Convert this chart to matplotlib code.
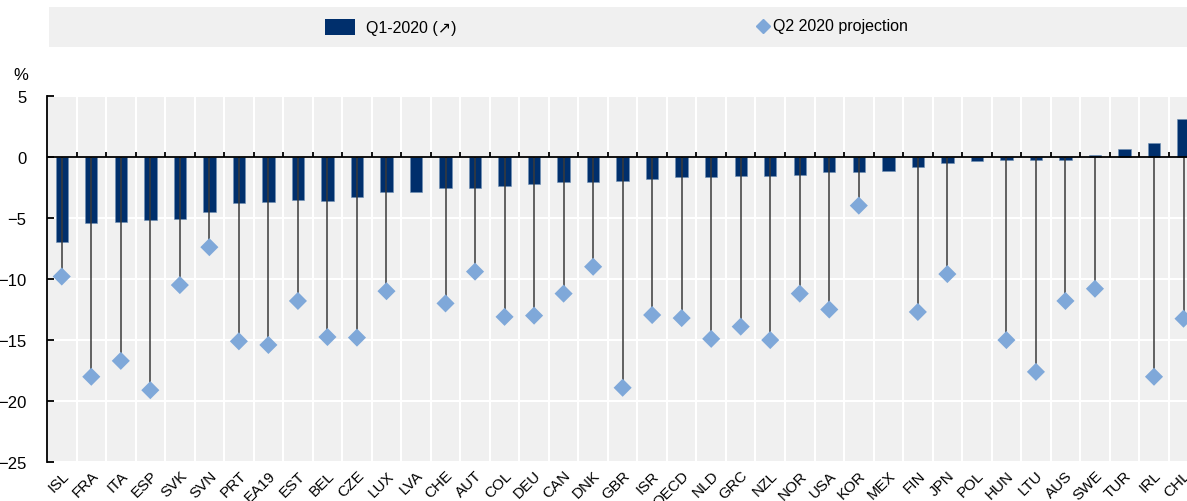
import numpy as np
import matplotlib
matplotlib.use('Agg')
import matplotlib.pyplot as plt
from matplotlib.patches import Rectangle

plt.rcParams['font.family'] = ['Liberation Sans', 'DejaVu Sans']

# Countries, sorted by Q1-2020 change
countries = ['ISL', 'FRA', 'ITA', 'ESP', 'SVK', 'SVN', 'PRT', 'EA19', 'EST', 'BEL',
             'CZE', 'LUX', 'LVA', 'CHE', 'AUT', 'COL', 'DEU', 'CAN', 'DNK', 'GBR',
             'ISR', 'OECD', 'NLD', 'GRC', 'NZL', 'NOR', 'USA', 'KOR', 'MEX', 'FIN',
             'JPN', 'POL', 'HUN', 'LTU', 'AUS', 'SWE', 'TUR', 'IRL', 'CHL']

# Q1-2020 growth (bars)
q1_2020 = [-7.0, -5.4, -5.3, -5.2, -5.1, -4.5, -3.8, -3.7, -3.55, -3.6,
           -3.3, -2.9, -2.9, -2.6, -2.55, -2.4, -2.2, -2.1, -2.05, -1.95,
           -1.8, -1.7, -1.7, -1.6, -1.6, -1.5, -1.25, -1.25, -1.2, -0.85,
           -0.5, -0.35, -0.3, -0.28, -0.25, 0.15, 0.6, 1.15, 3.1]

# Q2 2020 projection (diamonds), None where not available
q2_projection = [-9.8, -18.0, -16.7, -19.1, -10.5, -7.4, -15.1, -15.4, -11.8, -14.75,
                 -14.8, -11.0, None, -12.0, -9.4, -13.1, -13.0, -11.2, -9.0, -18.9,
                 -12.95, -13.2, -14.9, -13.9, -15.0, -11.2, -12.5, -4.0, None, -12.7,
                 -9.6, None, -15.0, -17.6, -11.8, -10.8, None, -18.0, -13.25]

bar_color = '#002F6C'
dia_color = '#7FA8D9'
bg = '#F0F0F0'

W, H = 1187, 502
fig = plt.figure(figsize=(W / 100, H / 100), dpi=100)

n = len(countries)
x = np.arange(n)
step = 29.52
ax_left, ax_top, ax_bot = 47, 96.6, 463.3
ax = fig.add_axes([ax_left / W, 1 - ax_bot / H, n * step / W, (ax_bot - ax_top) / H])
ax.set_facecolor(bg)
ax.set_xlim(-0.5, n - 0.5)
ax.set_ylim(-25, 5)

# white grid
for b in np.arange(n + 1) - 0.5:
    ax.axvline(b, color='white', lw=1.5, zorder=0)
for yv in range(-25, 6, 5):
    ax.axhline(yv, color='white', lw=1.5, zorder=0)

ax.bar(x, q1_2020, width=0.42, color=bar_color, edgecolor='#6f8fb5', linewidth=0.4, zorder=2)

# stems from zero to projection + diamonds
px = [i for i, v in enumerate(q2_projection) if v is not None]
py = [v for v in q2_projection if v is not None]
ax.vlines(px, 0, py, color='#3a3a3a', lw=1.1, zorder=3)
ax.scatter(px, py, marker='D', s=85, color=dia_color, edgecolors='none', zorder=4)

# zero line with small upward ticks at category boundaries
ax.axhline(0, color='black', lw=1.3, zorder=5)
ax.vlines(np.arange(1, n) - 0.5, 0, 0.38, color='black', lw=1.3, zorder=5)

for s in ['top', 'right', 'bottom']:
    ax.spines[s].set_visible(False)
ax.spines['left'].set_linewidth(1.3)
ax.spines['left'].set_zorder(6)

ax.set_yticks(range(-25, 6, 5))
ax.tick_params(axis='y', direction='in', length=5, width=1.3, labelsize=12, pad=15)
ax.set_xticks(x)
ax.set_xticklabels(countries, rotation=45, ha='right', va='top',
                   rotation_mode='anchor', fontsize=11)
ax.tick_params(axis='x', length=0, pad=4)

fig.text(21 / W, 1 - 75 / H, '%', fontsize=12, ha='center', va='center')

# legend band
fig.patches.append(Rectangle((49 / W, 1 - 47.5 / H), (W - 49) / W, 39.5 / H,
                             transform=fig.transFigure, facecolor=bg, edgecolor='none'))
fig.patches.append(Rectangle((325 / W, 1 - 35.7 / H), 30 / W, 15.7 / H,
                             transform=fig.transFigure, facecolor=bar_color, edgecolor='none'))
fig.text(366 / W, 1 - 28 / H, 'Q1-2020 (\u2197)', fontsize=11.5, va='center', ha='left')
fig.lines.append(plt.Line2D([763 / W], [1 - 27 / H], transform=fig.transFigure,
                            marker='D', markersize=7, color=dia_color, linestyle='none'))
fig.text(773 / W, 1 - 27 / H, 'Q2 2020 projection', fontsize=11.5, va='center', ha='left')

fig.savefig('out.png', dpi=100)
